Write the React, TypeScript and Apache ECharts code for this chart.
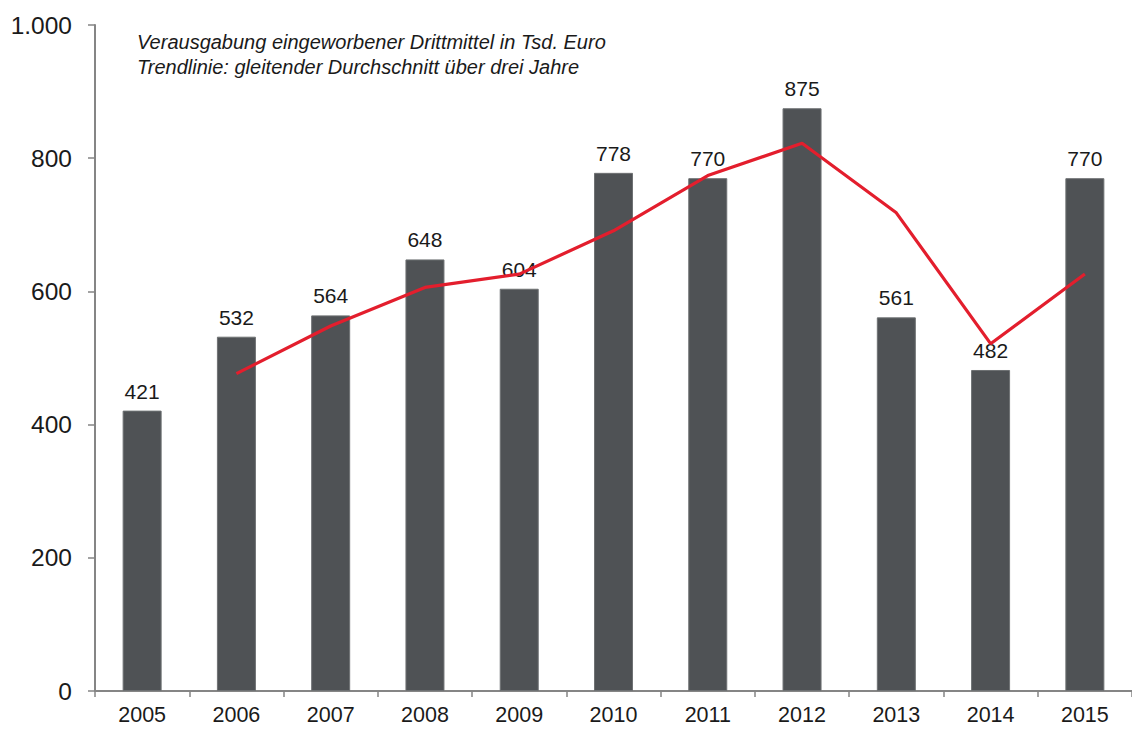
import React, { useEffect, useRef } from "react";
import * as echarts from "echarts";

const years = ["2005", "2006", "2007", "2008", "2009", "2010", "2011", "2012", "2013", "2014", "2015"];
const spending = [421, 532, 564, 648, 604, 778, 770, 875, 561, 482, 770];
const trend = [null, 476.5, 548, 606, 626, 691, 774, 822.5, 718, 521.5, 626];
const noteLines = [
  "Verausgabung eingeworbener Drittmittel in Tsd. Euro",
  "Trendlinie: gleitender Durchschnitt über drei Jahre",
];

const FONT = "'Liberation Sans', Arial, sans-serif";

export default function App() {
  const ref = useRef<HTMLDivElement>(null);
  useEffect(() => {
    document.body.style.margin = "0";
    document.body.style.overflow = "hidden";
    const chart = echarts.init(ref.current!, null, { renderer: "svg" });
    chart.setOption({
      animation: false,
      backgroundColor: "#ffffff",
      textStyle: { fontFamily: FONT },
      grid: { left: 95, right: -9, top: 25, bottom: 38, containLabel: false },
      graphic: [
        {
          type: "text",
          left: 137,
          top: 29,
          style: {
            text: noteLines.join("\n"),
            font: `italic 20px ${FONT}`,
            fill: "#1a1a1a",
            lineHeight: 25,
          },
        },
      ],
      xAxis: {
        type: "category",
        data: years,
        boundaryGap: true,
        axisLine: { lineStyle: { color: "#858585", width: 2 } },
        axisTick: { show: true, length: 6, lineStyle: { color: "#858585", width: 1.5 } },
        axisLabel: { color: "#1a1a1a", fontSize: 21.5, margin: 13, fontFamily: FONT },
      },
      yAxis: {
        type: "value",
        min: 0,
        max: 1000,
        interval: 200,
        splitLine: { show: false },
        axisLine: { show: true, lineStyle: { color: "#858585", width: 2 } },
        axisTick: { show: true, length: 7, lineStyle: { color: "#858585", width: 1.5 } },
        axisLabel: {
          color: "#1a1a1a",
          fontSize: 24.5,
          margin: 23,
          fontFamily: FONT,
          formatter: (v: number) => (v >= 1000 ? "1.000" : String(v)),
        },
      },
      series: [
        {
          type: "bar",
          data: spending,
          barWidth: 39,
          itemStyle: { color: "#4f5255", borderColor: "#6e7173", borderWidth: 1 },
          label: {
            show: true,
            position: "top",
            distance: 9,
            color: "#1a1a1a",
            fontSize: 21,
            fontFamily: FONT,
          },
        },
        {
          type: "line",
          data: trend,
          symbol: "none",
          connectNulls: false,
          lineStyle: { color: "#e31e2d", width: 3.2 },
          z: 3,
        },
      ],
    });
    return () => chart.dispose();
  }, []);
  return <div ref={ref} style={{ width: 1132, height: 729 }} />;
}
